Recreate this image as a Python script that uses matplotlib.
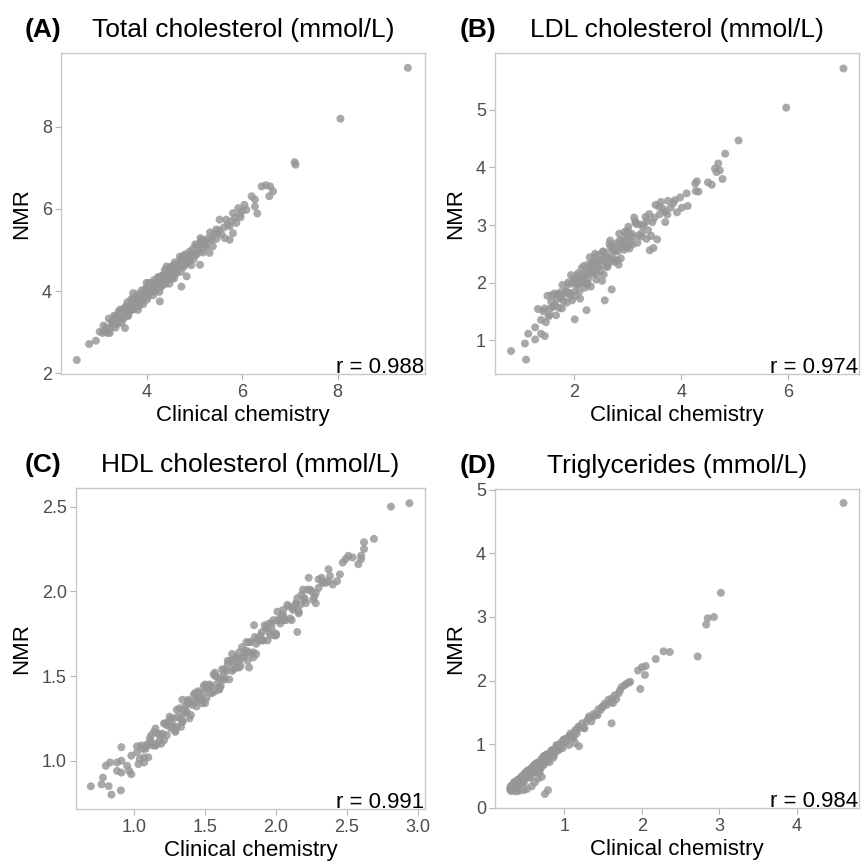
import numpy as np
import matplotlib
matplotlib.use("Agg")
from matplotlib import pyplot as plt

plt.rcParams['font.family'] = ['Liberation Sans', 'DejaVu Sans']

# ---- data (clinical chemistry vs NMR) ----

# (A) total cholesterol
tc_clin = [3.10, 3.13, 3.15, 3.19, 3.21, 3.24, 3.27, 3.30, 3.32, 3.35,
           3.37, 3.40, 3.43, 3.45, 3.48, 3.50, 3.52, 3.55, 3.58, 3.60,
           3.62, 3.65, 3.67, 3.70, 3.72, 3.74, 3.77, 3.79, 3.82, 3.84,
           3.86, 3.89, 3.91, 3.93, 3.96, 3.98, 4.00, 4.03, 4.05, 4.07,
           4.10, 4.12, 4.14, 4.17, 4.19, 4.21, 4.24, 4.26, 4.28, 4.31,
           4.33, 4.35, 4.38, 4.40, 4.42, 4.45, 4.47, 4.50, 4.52, 4.54,
           4.57, 4.59, 4.62, 4.64, 4.67, 4.69, 4.72, 4.74, 4.77, 4.80,
           4.82, 4.85, 4.88, 4.90, 4.93, 4.96, 4.99, 5.02, 5.05, 5.08,
           5.11, 5.14, 5.18, 5.21, 5.25, 5.29, 5.33, 5.37, 5.41, 5.46,
           3.55, 3.63, 3.71, 3.78, 3.85, 3.92, 3.97, 4.02, 4.08, 4.13,
           4.18, 4.23, 4.29, 4.34, 4.39, 4.44, 4.49, 4.55, 4.60, 4.66,
           4.71, 4.78, 4.84, 4.91, 4.97, 5.04, 5.10, 5.16, 5.23, 5.30,
           3.48, 3.82, 4.05, 4.27, 4.48, 4.70, 4.94, 5.13, 3.68, 4.58,
           3.28, 3.33, 3.38, 3.42, 3.47, 3.53, 3.57, 3.61, 3.66, 3.69,
           3.73, 3.76, 3.81, 3.83, 3.87, 3.90, 3.94, 3.99, 4.01, 4.04,
           4.09, 4.11, 4.15, 4.16, 4.20, 4.22, 4.25, 4.30, 4.32, 4.36,
           4.37, 4.41, 4.43, 4.46, 4.51, 4.53, 4.56, 4.61, 4.63, 4.68,
           4.73, 4.76, 4.81, 4.86, 4.89, 4.95, 5.00, 5.06, 5.15, 5.20,
           2.54, 2.80, 2.94, 3.08, 3.02, 3.23, 3.55, 4.28, 4.73, 4.84,
           5.12, 5.32, 5.39, 5.64, 5.74, 5.81, 5.46, 5.53, 5.67, 5.74,
           5.88, 5.81, 5.92, 5.95, 6.09, 6.27, 6.32, 6.20, 6.27, 6.41,
           6.50, 6.59, 6.65, 6.57, 7.10, 7.12, 8.06, 9.47, 4.42, 4.00,
           3.72, 5.48, 5.52, 5.57, 5.62, 5.70, 5.78, 5.85, 6.00, 6.05, 5.97]
tc_nmr = [3.16, 3.02, 3.11, 2.98, 3.33, 3.09, 3.27, 3.22, 3.40, 3.11,
          3.40, 3.23, 3.37, 3.55, 3.35, 3.48, 3.33, 3.59, 3.49, 3.73,
          3.40, 3.66, 3.53, 3.65, 3.79, 3.56, 3.76, 3.72, 3.93, 3.64,
          3.88, 3.77, 3.88, 3.68, 4.01, 3.88, 4.09, 3.87, 3.99, 4.07,
          4.02, 4.20, 3.90, 4.20, 4.02, 4.15, 4.34, 4.13, 4.26, 4.12,
          4.37, 4.26, 4.51, 4.18, 4.43, 4.31, 4.42, 4.57, 4.34, 4.53,
          4.50, 4.70, 4.42, 4.66, 4.55, 4.66, 4.47, 4.79, 4.67, 4.89,
          4.66, 4.79, 4.88, 4.96, 4.82, 4.92, 4.78, 5.14, 4.90, 5.08,
          5.03, 5.22, 4.94, 5.24, 5.08, 5.23, 5.43, 5.24, 5.39, 5.27,
          3.52, 3.50, 3.76, 3.70, 3.84, 3.74, 3.99, 3.92, 4.15, 4.08,
          4.03, 4.23, 4.09, 4.30, 4.43, 4.33, 4.58, 4.39, 4.58, 4.59,
          4.74, 4.59, 4.85, 4.82, 5.03, 4.90, 5.04, 5.24, 5.11, 5.29,
          3.22, 3.54, 4.20, 3.98, 4.18, 4.84, 4.63, 5.29, 3.80, 4.31,
          3.19, 3.35, 3.20, 3.51, 3.41, 3.40, 3.63, 3.40, 3.65, 3.54,
          3.83, 3.68, 3.85, 3.64, 3.84, 4.02, 3.82, 4.02, 3.79, 4.11,
          3.99, 4.12, 3.98, 4.27, 4.15, 4.08, 4.33, 4.22, 4.37, 4.16,
          4.36, 4.26, 4.53, 4.35, 4.53, 4.30, 4.62, 4.55, 4.47, 4.68,
          4.60, 4.84, 4.73, 4.90, 4.71, 4.93, 4.88, 5.11, 5.00, 5.16,
          2.32, 2.71, 2.79, 2.98, 3.01, 2.98, 3.10, 3.75, 4.11, 4.36,
          4.64, 4.93, 5.09, 5.29, 5.25, 5.41, 5.50, 5.74, 5.74, 5.58,
          5.66, 5.90, 6.02, 5.86, 5.98, 6.06, 5.89, 6.31, 6.23, 6.55,
          6.58, 6.55, 6.43, 6.31, 7.14, 7.08, 8.20, 9.44, 4.60, 4.20,
          3.95, 5.40, 5.48, 5.38, 5.55, 5.62, 5.70, 5.78, 5.95, 6.10, 5.80]

# (B) LDL cholesterol
ldl_clin = [1.32, 1.38, 1.42, 1.47, 1.50, 1.54, 1.57, 1.60, 1.63, 1.66,
            1.69, 1.72, 1.75, 1.78, 1.80, 1.83, 1.86, 1.88, 1.91, 1.94,
            1.96, 1.99, 2.02, 2.04, 2.07, 2.10, 2.12, 2.15, 2.18, 2.20,
            2.23, 2.26, 2.28, 2.31, 2.34, 2.36, 2.39, 2.42, 2.44, 2.47,
            2.50, 2.53, 2.55, 2.58, 2.61, 2.64, 2.66, 2.69, 2.72, 2.75,
            2.78, 2.81, 2.84, 2.87, 2.90, 2.93, 2.96, 3.00, 3.03, 3.07,
            3.10, 3.14, 3.18, 3.22, 3.26, 3.30, 3.35, 3.40, 3.46, 3.52,
            1.85, 1.92, 2.00, 2.08, 2.16, 2.24, 2.32, 2.40, 2.48, 2.56,
            2.64, 2.72, 2.80, 2.88, 2.97, 3.05, 3.15, 3.25, 3.36, 3.60,
            1.62, 1.74, 2.11, 2.29, 2.52, 2.67, 2.83, 3.12, 3.44, 3.70,
            1.45, 1.52, 1.58, 1.65, 1.70, 1.77, 1.82, 1.89, 1.93, 1.98,
            2.03, 2.06, 2.09, 2.14, 2.17, 2.21, 2.25, 2.27, 2.33, 2.37,
            2.41, 2.45, 2.49, 2.54, 2.59, 2.62, 2.68, 2.71, 2.76, 2.79,
            2.85, 2.89, 2.94, 2.98, 3.04, 3.09, 3.16, 3.20, 3.28, 3.33,
            3.38, 3.50, 1.55, 1.68, 2.19, 2.35, 2.60, 2.77, 2.92, 3.02,
            0.82, 1.10, 1.08, 1.14, 1.27, 1.27, 1.38, 1.45, 2.01, 2.23,
            2.57, 2.70, 2.39, 3.01, 3.41, 3.48, 3.55, 3.70, 3.88, 3.98,
            4.01, 4.12, 4.10, 4.26, 4.29, 4.27, 4.32, 4.50, 4.57, 4.63,
            4.69, 4.66, 4.72, 4.77, 4.82, 5.07, 5.96, 7.03, 3.62, 3.75,
            3.80, 3.66, 3.58, 3.85, 3.92, 3.74]
ldl_nmr = [1.54, 1.35, 1.50, 1.31, 1.77, 1.44, 1.67, 1.58, 1.81, 1.43,
           1.80, 1.56, 1.73, 1.96, 1.68, 1.84, 1.65, 1.96, 1.82, 2.13,
           1.69, 2.01, 1.85, 1.97, 2.16, 1.85, 2.09, 2.04, 2.29, 1.91,
           2.21, 2.06, 2.19, 1.93, 2.34, 2.17, 2.44, 2.14, 2.28, 2.39,
           2.30, 2.53, 2.14, 2.51, 2.28, 2.44, 2.67, 2.39, 2.56, 2.36,
           2.68, 2.54, 2.85, 2.42, 2.74, 2.57, 2.71, 2.90, 2.59, 2.85,
           2.80, 3.06, 2.69, 3.01, 2.86, 3.01, 2.76, 3.19, 3.05, 3.35,
           1.84, 1.81, 2.07, 1.97, 2.13, 1.97, 2.29, 2.20, 2.48, 2.39,
           2.33, 2.59, 2.39, 2.66, 2.84, 2.70, 3.04, 2.80, 3.07, 3.19,
           1.59, 1.83, 1.72, 2.44, 2.03, 2.73, 2.31, 3.13, 2.81, 3.23,
           1.55, 1.41, 1.78, 1.60, 1.79, 1.55, 1.81, 2.00, 1.76, 1.98,
           1.77, 2.11, 1.98, 2.25, 1.99, 2.14, 1.98, 2.32, 2.15, 2.34,
           2.05, 2.37, 2.20, 2.54, 2.40, 2.27, 2.61, 2.44, 2.63, 2.37,
           2.73, 2.61, 2.88, 2.61, 2.81, 2.66, 3.02, 2.82, 2.98, 3.14,
           2.91, 3.13, 1.55, 1.71, 2.09, 2.20, 2.43, 2.55, 2.64, 2.78,
           0.81, 0.66, 0.94, 1.11, 1.01, 1.22, 1.11, 1.07, 1.36, 1.52,
           1.69, 1.88, 2.50, 2.97, 2.56, 2.60, 2.75, 3.05, 3.43, 3.48,
           3.30, 3.33, 3.55, 3.72, 3.76, 3.59, 3.58, 3.74, 3.70, 3.98,
           4.07, 3.92, 3.95, 3.80, 4.24, 4.47, 5.04, 5.72, 3.40, 3.42,
           3.30, 3.28, 3.32, 3.38, 3.22, 3.18]

# (C) HDL cholesterol
hdl_clin = [1.02, 1.04, 1.05, 1.07, 1.08, 1.10, 1.11, 1.13, 1.14, 1.16,
            1.17, 1.19, 1.20, 1.22, 1.23, 1.25, 1.26, 1.28, 1.29, 1.31,
            1.32, 1.34, 1.35, 1.37, 1.38, 1.40, 1.41, 1.43, 1.44, 1.46,
            1.47, 1.49, 1.50, 1.52, 1.53, 1.55, 1.56, 1.58, 1.59, 1.61,
            1.62, 1.64, 1.65, 1.67, 1.68, 1.70, 1.71, 1.73, 1.74, 1.76,
            1.77, 1.79, 1.80, 1.82, 1.83, 1.85, 1.86, 1.88, 1.89, 1.91,
            1.92, 1.94, 1.95, 1.97, 1.99, 2.01, 2.03, 2.05, 2.07, 2.09,
            2.11, 2.13, 2.15, 2.17, 2.19, 2.21, 2.24, 2.27, 2.30, 2.33,
            1.09, 1.15, 1.21, 1.27, 1.33, 1.39, 1.45, 1.51, 1.57, 1.63,
            1.23, 1.29, 1.36, 1.42, 1.48, 1.54, 1.60, 1.66, 1.72, 1.78,
            1.30, 1.38, 1.46, 1.53, 1.60, 1.69, 1.75, 1.84, 1.93, 2.00,
            1.12, 1.18, 1.26, 1.34, 1.44, 1.50, 1.57, 1.64, 1.81, 1.97,
            1.03, 1.06, 1.12, 1.15, 1.18, 1.21, 1.24, 1.27, 1.30, 1.33,
            1.36, 1.39, 1.42, 1.45, 1.48, 1.51, 1.54, 1.57, 1.60, 1.63,
            1.66, 1.69, 1.72, 1.75, 1.78, 1.81, 1.84, 1.87, 1.90, 1.93,
            1.96, 1.98, 2.00, 2.02, 2.04, 2.06, 2.08, 2.10, 2.12, 2.14,
            2.16, 2.18, 2.20, 2.22, 1.35, 1.49, 1.61, 1.73, 1.86, 2.05,
            0.695, 0.78, 0.77, 0.82, 0.84, 0.906, 0.80, 0.83, 0.88, 0.91,
            0.91, 0.88, 0.91, 0.95, 0.965, 0.98, 1.02, 0.98, 1.07, 2.94,
            2.81, 2.69, 2.62, 2.62, 2.60, 2.60, 2.58, 2.49, 2.51, 2.54,
            2.47, 2.37, 2.45, 2.43, 2.32, 2.35, 2.37, 2.23, 2.20, 2.26,
            2.28, 2.14, 2.12, 2.16, 2.01, 2.05, 2.15, 1.95, 1.845, 1.90,
            1.69, 1.74, 1.79, 1.34, 1.81, 1.09, 1.15, 2.30, 2.33, 2.38,
            2.40, 2.28, 2.25]
hdl_nmr = [1.05, 1.01, 1.09, 1.02, 1.07, 1.02, 1.13, 1.09, 1.17, 1.10,
           1.16, 1.10, 1.16, 1.22, 1.15, 1.26, 1.19, 1.25, 1.17, 1.26,
           1.31, 1.23, 1.30, 1.29, 1.34, 1.27, 1.33, 1.40, 1.32, 1.40,
           1.36, 1.44, 1.34, 1.43, 1.45, 1.40, 1.51, 1.45, 1.49, 1.44,
           1.54, 1.48, 1.53, 1.48, 1.59, 1.54, 1.60, 1.58, 1.55, 1.67,
           1.61, 1.65, 1.59, 1.70, 1.63, 1.73, 1.63, 1.71, 1.74, 1.71,
           1.80, 1.71, 1.76, 1.81, 1.74, 1.83, 1.81, 1.89, 1.83, 1.91,
           1.83, 1.91, 1.96, 1.92, 2.01, 1.93, 2.01, 1.97, 2.07, 2.06,
           1.09, 1.09, 1.22, 1.21, 1.20, 1.35, 1.37, 1.37, 1.52, 1.48,
           1.21, 1.18, 1.29, 1.39, 1.36, 1.44, 1.42, 1.57, 1.55, 1.64,
           1.20, 1.36, 1.36, 1.44, 1.43, 1.58, 1.60, 1.64, 1.79, 1.74,
           1.11, 1.12, 1.25, 1.23, 1.37, 1.45, 1.41, 1.54, 1.64, 1.78,
           0.98, 1.07, 1.15, 1.09, 1.15, 1.12, 1.23, 1.20, 1.30, 1.25,
           1.32, 1.25, 1.34, 1.41, 1.34, 1.43, 1.40, 1.50, 1.43, 1.51,
           1.59, 1.53, 1.61, 1.56, 1.62, 1.70, 1.61, 1.72, 1.71, 1.78,
           1.74, 1.83, 1.75, 1.83, 1.86, 1.83, 1.92, 1.84, 1.90, 1.93,
           1.88, 1.98, 1.95, 2.01, 1.28, 1.40, 1.48, 1.60, 1.69, 1.83,
           0.849, 0.90, 0.86, 0.85, 0.80, 0.825, 0.97, 0.99, 0.99, 1.00,
           1.08, 0.94, 0.93, 0.97, 0.94, 0.92, 1.085, 1.03, 0.99, 2.52,
           2.50, 2.31, 2.29, 2.25, 2.21, 2.19, 2.16, 2.19, 2.21, 2.20,
           2.17, 2.13, 2.10, 2.06, 2.08, 2.05, 2.06, 2.08, 1.96, 1.95,
           1.93, 1.92, 1.89, 1.87, 1.88, 1.86, 1.76, 1.81, 1.80, 1.76,
           1.63, 1.64, 1.70, 1.36, 1.55, 1.095, 1.19, 2.02, 2.05, 2.09,
           2.04, 1.99, 2.00]

# (D) triglycerides
tg_clin = [0.30, 0.31, 0.32, 0.33, 0.34, 0.35, 0.36, 0.37, 0.38, 0.39,
           0.40, 0.41, 0.42, 0.43, 0.44, 0.45, 0.46, 0.47, 0.48, 0.49,
           0.50, 0.51, 0.52, 0.53, 0.54, 0.55, 0.56, 0.57, 0.58, 0.59,
           0.60, 0.61, 0.62, 0.63, 0.64, 0.65, 0.66, 0.67, 0.68, 0.69,
           0.70, 0.71, 0.72, 0.73, 0.74, 0.75, 0.76, 0.77, 0.78, 0.79,
           0.80, 0.82, 0.84, 0.86, 0.88, 0.90, 0.92, 0.94, 0.96, 0.98,
           1.00, 1.02, 1.04, 1.06, 1.08, 1.10, 1.12, 1.14, 1.16, 1.18,
           1.20, 1.23, 1.26, 1.29, 1.32, 1.35, 1.38, 1.41, 1.44, 1.47,
           0.35, 0.42, 0.48, 0.55, 0.62, 0.68, 0.74, 0.81, 0.87, 0.93,
           0.33, 0.40, 0.46, 0.53, 0.58, 0.64, 0.71, 0.77, 0.85, 0.91,
           0.31, 0.33, 0.35, 0.37, 0.39, 0.41, 0.43, 0.45, 0.47, 0.49,
           0.51, 0.53, 0.55, 0.57, 0.59, 0.61, 0.63, 0.65, 0.67, 0.69,
           0.71, 0.73, 0.75, 0.77, 0.79, 0.83, 0.87, 0.91, 0.95, 0.99,
           1.03, 1.07, 1.11, 1.15, 1.19, 1.25, 1.31, 1.37, 1.43, 1.49,
           0.75, 0.79, 0.71, 1.14, 1.19, 1.61, 1.98, 2.04, 1.95, 2.00,
           2.05, 2.18, 2.28, 2.36, 2.72, 2.83, 2.85, 2.93, 3.02, 4.60,
           1.83, 1.85, 1.78, 1.74, 1.72, 1.70, 1.65, 1.61, 1.57, 1.52,
           1.50, 1.55, 1.60, 1.63, 1.67, 1.80, 0.42, 0.48, 0.52, 0.38,
           0.58, 0.62, 0.66, 0.68]
tg_nmr = [0.30, 0.27, 0.35, 0.27, 0.36, 0.33, 0.41, 0.32, 0.39, 0.36,
          0.44, 0.34, 0.42, 0.46, 0.40, 0.50, 0.44, 0.49, 0.40, 0.50,
          0.56, 0.49, 0.55, 0.48, 0.59, 0.56, 0.48, 0.61, 0.57, 0.65,
          0.56, 0.64, 0.67, 0.57, 0.66, 0.71, 0.64, 0.71, 0.59, 0.72,
          0.76, 0.68, 0.75, 0.81, 0.68, 0.79, 0.75, 0.84, 0.80, 0.75,
          0.85, 0.80, 0.91, 0.79, 0.92, 0.99, 0.90, 0.98, 1.03, 0.94,
          1.08, 1.03, 1.10, 0.99, 1.17, 1.14, 1.10, 1.22, 1.17, 1.27,
          1.26, 1.33, 1.25, 1.36, 1.44, 1.36, 1.48, 1.46, 1.55, 1.54,
          0.36, 0.37, 0.52, 0.48, 0.68, 0.67, 0.78, 0.72, 0.92, 0.92,
          0.31, 0.43, 0.40, 0.59, 0.55, 0.65, 0.65, 0.83, 0.86, 0.97,
          0.34, 0.31, 0.40, 0.31, 0.40, 0.45, 0.38, 0.47, 0.44, 0.54,
          0.51, 0.58, 0.49, 0.61, 0.60, 0.58, 0.69, 0.64, 0.71, 0.62,
          0.75, 0.72, 0.82, 0.74, 0.82, 0.89, 0.83, 0.97, 0.96, 1.07,
          1.06, 1.14, 1.10, 1.21, 1.28, 1.26, 1.40, 1.43, 1.46, 1.59,
          0.22, 0.28, 0.49, 1.02, 0.97, 1.33, 1.87, 2.09, 2.16, 2.21,
          2.23, 2.34, 2.46, 2.45, 2.38, 2.88, 2.98, 3.00, 3.38, 4.79,
          1.97, 1.98, 1.93, 1.90, 1.85, 1.80, 1.77, 1.72, 1.70, 1.64,
          1.59, 1.62, 1.66, 1.65, 1.71, 1.95, 0.27, 0.28, 0.30, 0.26,
          0.34, 0.40, 0.46, 0.55]

titles = ["Total cholesterol (mmol/L)", "LDL cholesterol (mmol/L)",
          "HDL cholesterol (mmol/L)", "Triglycerides (mmol/L)"]
tags = ["(A)", "(B)", "(C)", "(D)"]
r_values = ["r = 0.988", "r = 0.974", "r = 0.991", "r = 0.984"]

W, H = 862, 866
fig = plt.figure(figsize=(W / 100, H / 100), dpi=100)


def fx(px):
    return px / W


def fy(py):
    return 1 - py / H


def panel(box, tag_x, x, y, title, tag, rtxt, xlim, ylim, xticks, yticks, xtl, ytl, ylab_x):
    left, top, right, bottom = box
    ax = fig.add_axes([fx(left), fy(bottom), (right - left) / W, (bottom - top) / H])
    ax.scatter(x, y, s=33, c='#969696', alpha=0.82, edgecolors='none')
    ax.set_xlim(*xlim)
    ax.set_ylim(*ylim)
    ax.set_xticks(xticks)
    ax.set_xticklabels(xtl)
    ax.set_yticks(yticks)
    ax.set_yticklabels(ytl)
    for s in ax.spines.values():
        s.set_color('#c8c8c8')
        s.set_linewidth(1.0)
    ax.tick_params(axis='both', colors='#b5b5b5', length=4.5, width=0.8,
                   labelsize=13, labelcolor='#4d4d4d')
    ax.tick_params(axis='x', pad=3.0)
    ax.tick_params(axis='y', pad=2.0)
    ax.text(0.998, 0.004, rtxt, transform=ax.transAxes, ha='right', va='baseline',
            fontsize=16, color='black')
    cx = (left + right) / 2
    fig.text(fx(cx), fy(top - 16), title, ha='center', va='baseline', fontsize=19)
    fig.text(fx(tag_x), fy(top - 16), tag, ha='left', va='baseline', fontsize=19,
             fontweight='bold')
    fig.text(fx(cx), fy(bottom + 47), "Clinical chemistry", ha='center', va='baseline',
             fontsize=16)
    fig.text(fx(ylab_x), fy((top + bottom) / 2), "NMR", ha='center', va='center',
             rotation=90, fontsize=16)
    return ax


panel((61, 53, 425, 374), 25, tc_clin, tc_nmr, titles[0], tags[0], r_values[0],
      (2.21, 9.83), (1.98, 9.80), [4, 6, 8], [2, 4, 6, 8],
      ["4", "6", "8"], ["2", "4", "6", "8"], 22)
panel((495, 53, 859, 374), 460, ldl_clin, ldl_nmr, titles[1], tags[1], r_values[1],
      (0.52, 7.32), (0.41, 5.99), [2, 4, 6], [1, 2, 3, 4, 5],
      ["2", "4", "6"], ["1", "2", "3", "4", "5"], 456)
panel((76, 488, 425, 809), 25, hdl_clin, hdl_nmr, titles[2], tags[2], r_values[2],
      (0.59, 3.05), (0.715, 2.61), [1.0, 1.5, 2.0, 2.5, 3.0], [1.0, 1.5, 2.0, 2.5],
      ["1.0", "1.5", "2.0", "2.5", "3.0"], ["1.0", "1.5", "2.0", "2.5"], 22)
panel((495, 489, 859, 808), 460, tg_clin, tg_nmr, titles[3], tags[3], r_values[3],
      (0.107, 4.80), (0.0, 5.01), [1, 2, 3, 4], [0, 1, 2, 3, 4, 5],
      ["1", "2", "3", "4"], ["0", "1", "2", "3", "4", "5"], 456)

fig.savefig("out.png", dpi=100)
